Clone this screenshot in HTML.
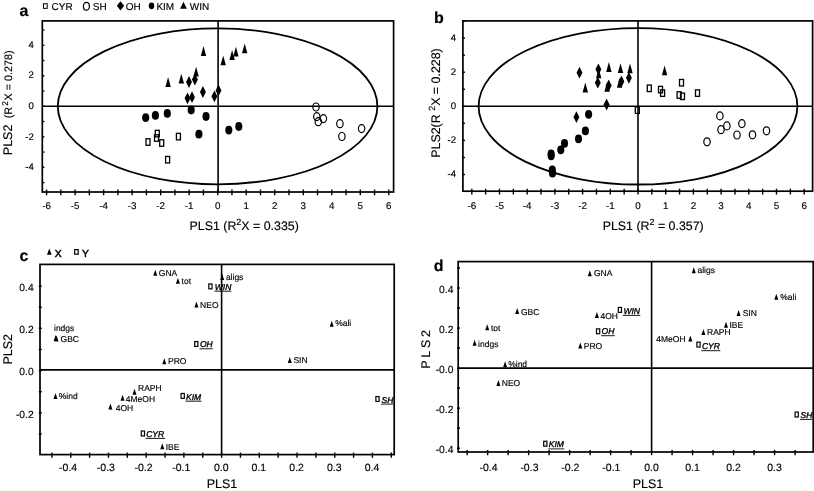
<!DOCTYPE html>
<html><head><meta charset="utf-8"><title>PLS plots</title>
<style>
html,body{margin:0;padding:0;background:#fff;}
body{width:814px;height:491px;overflow:hidden;}
svg{display:block;will-change:transform;}
svg text{font-family:"Liberation Sans", sans-serif;fill:#000;stroke:#000;stroke-width:0.15px;text-rendering:geometricPrecision;}
</style></head><body>
<svg width="814" height="491" viewBox="0 0 814 491">
<rect width="814" height="491" fill="#fff"/>
<rect x="42.3" y="20.9" width="351.3" height="171.1" fill="none" stroke="#000" stroke-width="1.7"/>
<line x1="42.30" y1="106.30" x2="393.60" y2="106.30" stroke="#000" stroke-width="1.6"/>
<line x1="218.10" y1="20.90" x2="218.10" y2="192.00" stroke="#000" stroke-width="1.6"/>
<ellipse cx="217.6" cy="106.3" rx="159.8" ry="78.0" fill="none" stroke="#000" stroke-width="1.8"/>
<line x1="46.58" y1="189.50" x2="46.58" y2="195.30" stroke="#000" stroke-width="1.4"/>
<line x1="60.84" y1="189.50" x2="60.84" y2="195.30" stroke="#000" stroke-width="1.4"/>
<line x1="75.10" y1="189.50" x2="75.10" y2="195.30" stroke="#000" stroke-width="1.4"/>
<line x1="89.36" y1="189.50" x2="89.36" y2="195.30" stroke="#000" stroke-width="1.4"/>
<line x1="103.62" y1="189.50" x2="103.62" y2="195.30" stroke="#000" stroke-width="1.4"/>
<line x1="117.88" y1="189.50" x2="117.88" y2="195.30" stroke="#000" stroke-width="1.4"/>
<line x1="132.14" y1="189.50" x2="132.14" y2="195.30" stroke="#000" stroke-width="1.4"/>
<line x1="146.40" y1="189.50" x2="146.40" y2="195.30" stroke="#000" stroke-width="1.4"/>
<line x1="160.66" y1="189.50" x2="160.66" y2="195.30" stroke="#000" stroke-width="1.4"/>
<line x1="174.92" y1="189.50" x2="174.92" y2="195.30" stroke="#000" stroke-width="1.4"/>
<line x1="189.18" y1="189.50" x2="189.18" y2="195.30" stroke="#000" stroke-width="1.4"/>
<line x1="203.44" y1="189.50" x2="203.44" y2="195.30" stroke="#000" stroke-width="1.4"/>
<line x1="217.70" y1="189.50" x2="217.70" y2="195.30" stroke="#000" stroke-width="1.4"/>
<line x1="231.96" y1="189.50" x2="231.96" y2="195.30" stroke="#000" stroke-width="1.4"/>
<line x1="246.22" y1="189.50" x2="246.22" y2="195.30" stroke="#000" stroke-width="1.4"/>
<line x1="260.48" y1="189.50" x2="260.48" y2="195.30" stroke="#000" stroke-width="1.4"/>
<line x1="274.74" y1="189.50" x2="274.74" y2="195.30" stroke="#000" stroke-width="1.4"/>
<line x1="289.00" y1="189.50" x2="289.00" y2="195.30" stroke="#000" stroke-width="1.4"/>
<line x1="303.26" y1="189.50" x2="303.26" y2="195.30" stroke="#000" stroke-width="1.4"/>
<line x1="317.52" y1="189.50" x2="317.52" y2="195.30" stroke="#000" stroke-width="1.4"/>
<line x1="331.78" y1="189.50" x2="331.78" y2="195.30" stroke="#000" stroke-width="1.4"/>
<line x1="346.04" y1="189.50" x2="346.04" y2="195.30" stroke="#000" stroke-width="1.4"/>
<line x1="360.30" y1="189.50" x2="360.30" y2="195.30" stroke="#000" stroke-width="1.4"/>
<line x1="374.56" y1="189.50" x2="374.56" y2="195.30" stroke="#000" stroke-width="1.4"/>
<line x1="388.82" y1="189.50" x2="388.82" y2="195.30" stroke="#000" stroke-width="1.4"/>
<line x1="42.00" y1="182.60" x2="44.40" y2="182.60" stroke="#000" stroke-width="1.4"/>
<line x1="42.00" y1="167.34" x2="44.40" y2="167.34" stroke="#000" stroke-width="1.4"/>
<line x1="42.00" y1="152.08" x2="44.40" y2="152.08" stroke="#000" stroke-width="1.4"/>
<line x1="42.00" y1="136.82" x2="44.40" y2="136.82" stroke="#000" stroke-width="1.4"/>
<line x1="42.00" y1="121.56" x2="44.40" y2="121.56" stroke="#000" stroke-width="1.4"/>
<line x1="42.00" y1="106.30" x2="44.40" y2="106.30" stroke="#000" stroke-width="1.4"/>
<line x1="42.00" y1="91.04" x2="44.40" y2="91.04" stroke="#000" stroke-width="1.4"/>
<line x1="42.00" y1="75.78" x2="44.40" y2="75.78" stroke="#000" stroke-width="1.4"/>
<line x1="42.00" y1="60.52" x2="44.40" y2="60.52" stroke="#000" stroke-width="1.4"/>
<line x1="42.00" y1="45.26" x2="44.40" y2="45.26" stroke="#000" stroke-width="1.4"/>
<line x1="42.00" y1="30.00" x2="44.40" y2="30.00" stroke="#000" stroke-width="1.4"/>
<text x="46.58" y="209.10" font-size="9.8" text-anchor="middle" font-weight="normal" font-style="normal" >-6</text>
<text x="75.10" y="209.10" font-size="9.8" text-anchor="middle" font-weight="normal" font-style="normal" >-5</text>
<text x="103.62" y="209.10" font-size="9.8" text-anchor="middle" font-weight="normal" font-style="normal" >-4</text>
<text x="132.14" y="209.10" font-size="9.8" text-anchor="middle" font-weight="normal" font-style="normal" >-3</text>
<text x="160.66" y="209.10" font-size="9.8" text-anchor="middle" font-weight="normal" font-style="normal" >-2</text>
<text x="189.18" y="209.10" font-size="9.8" text-anchor="middle" font-weight="normal" font-style="normal" >-1</text>
<text x="217.70" y="209.10" font-size="9.8" text-anchor="middle" font-weight="normal" font-style="normal" >0</text>
<text x="246.22" y="209.10" font-size="9.8" text-anchor="middle" font-weight="normal" font-style="normal" >1</text>
<text x="274.74" y="209.10" font-size="9.8" text-anchor="middle" font-weight="normal" font-style="normal" >2</text>
<text x="303.26" y="209.10" font-size="9.8" text-anchor="middle" font-weight="normal" font-style="normal" >3</text>
<text x="331.78" y="209.10" font-size="9.8" text-anchor="middle" font-weight="normal" font-style="normal" >4</text>
<text x="360.30" y="209.10" font-size="9.8" text-anchor="middle" font-weight="normal" font-style="normal" >5</text>
<text x="388.82" y="209.10" font-size="9.8" text-anchor="middle" font-weight="normal" font-style="normal" >6</text>
<text x="33.80" y="47.96" font-size="9.6" text-anchor="end" font-weight="normal" font-style="normal" >4</text>
<text x="33.80" y="78.48" font-size="9.6" text-anchor="end" font-weight="normal" font-style="normal" >2</text>
<text x="33.80" y="109.00" font-size="9.6" text-anchor="end" font-weight="normal" font-style="normal" >0</text>
<text x="33.80" y="139.52" font-size="9.6" text-anchor="end" font-weight="normal" font-style="normal" >-2</text>
<text x="33.80" y="170.04" font-size="9.6" text-anchor="end" font-weight="normal" font-style="normal" >-4</text>
<text x="244.20" y="229.70" font-size="12.4" text-anchor="middle" font-weight="normal" font-style="normal" >PLS1 (R<tspan dy="-4.5" font-size="9">2</tspan><tspan dy="4.5">X = 0.335)</tspan></text>
<g transform="translate(12.4,155.2) rotate(-90)"><text x="0.00" y="0.00" font-size="12.5" text-anchor="start" font-weight="normal" font-style="normal" >PLS2<tspan dx="3.3" font-size="10.8"> (R</tspan><tspan dx="1.2" dy="-4.6" font-size="8.5">2</tspan><tspan dx="0.4" dy="4.6" font-size="10.8">X = 0.278)</tspan></text></g>
<text x="19.50" y="16.00" font-size="16" text-anchor="start" font-weight="bold" font-style="normal" >a</text>
<rect x="43.50" y="3.75" width="3.7" height="4.6" fill="none" stroke="#000" stroke-width="1.0"/>
<text x="51.60" y="9.70" font-size="10" text-anchor="start" font-weight="normal" font-style="normal" >CYR</text>
<ellipse cx="86.40" cy="6.25" rx="3.0" ry="3.95" fill="none" stroke="#000" stroke-width="1.2"/>
<text x="92.80" y="9.70" font-size="10" text-anchor="start" font-weight="normal" font-style="normal" >SH</text>
<polygon points="120.50,1.20 124.20,5.80 120.50,10.40 116.80,5.80"/>
<text x="125.80" y="9.70" font-size="10" text-anchor="start" font-weight="normal" font-style="normal" >OH</text>
<ellipse cx="151.50" cy="5.85" rx="2.75" ry="3.35"/>
<text x="156.40" y="9.70" font-size="10" text-anchor="start" font-weight="normal" font-style="normal" >KIM</text>
<polygon points="183.50,1.80 180.10,8.80 186.90,8.80"/>
<text x="189.80" y="9.70" font-size="10" text-anchor="start" font-weight="normal" font-style="normal" >WIN</text>
<rect x="146.00" y="138.75" width="4.0" height="6.5" fill="none" stroke="#000" stroke-width="1.3"/>
<rect x="155.30" y="130.35" width="4.0" height="6.5" fill="none" stroke="#000" stroke-width="1.3"/>
<rect x="154.50" y="134.75" width="4.0" height="6.5" fill="none" stroke="#000" stroke-width="1.3"/>
<rect x="159.70" y="139.75" width="4.0" height="6.5" fill="none" stroke="#000" stroke-width="1.3"/>
<rect x="176.40" y="133.35" width="4.0" height="6.5" fill="none" stroke="#000" stroke-width="1.3"/>
<rect x="165.60" y="156.45" width="4.0" height="6.5" fill="none" stroke="#000" stroke-width="1.3"/>
<ellipse cx="316.00" cy="107.00" rx="3.2" ry="4.0" fill="none" stroke="#000" stroke-width="1.2"/>
<ellipse cx="316.80" cy="116.60" rx="3.2" ry="4.0" fill="none" stroke="#000" stroke-width="1.2"/>
<ellipse cx="323.40" cy="118.60" rx="3.2" ry="4.0" fill="none" stroke="#000" stroke-width="1.2"/>
<ellipse cx="318.30" cy="121.70" rx="3.2" ry="4.0" fill="none" stroke="#000" stroke-width="1.2"/>
<ellipse cx="339.90" cy="123.70" rx="3.2" ry="4.0" fill="none" stroke="#000" stroke-width="1.2"/>
<ellipse cx="341.90" cy="136.50" rx="3.2" ry="4.0" fill="none" stroke="#000" stroke-width="1.2"/>
<ellipse cx="361.60" cy="128.60" rx="3.2" ry="4.0" fill="none" stroke="#000" stroke-width="1.2"/>
<ellipse cx="145.70" cy="117.60" rx="3.55" ry="4.4"/>
<ellipse cx="155.40" cy="115.40" rx="3.55" ry="4.4"/>
<ellipse cx="167.30" cy="113.40" rx="3.55" ry="4.4"/>
<ellipse cx="191.20" cy="110.00" rx="3.55" ry="4.4"/>
<ellipse cx="206.00" cy="116.50" rx="3.55" ry="4.4"/>
<ellipse cx="198.90" cy="134.20" rx="3.55" ry="4.4"/>
<ellipse cx="228.80" cy="130.10" rx="3.55" ry="4.4"/>
<ellipse cx="238.80" cy="126.50" rx="3.55" ry="4.4"/>
<polygon points="189.00,76.10 191.95,82.00 189.00,87.90 186.05,82.00"/>
<polygon points="194.90,73.60 197.85,79.50 194.90,85.40 191.95,79.50"/>
<polygon points="202.90,86.10 205.85,92.00 202.90,97.90 199.95,92.00"/>
<polygon points="187.50,92.40 190.45,98.30 187.50,104.20 184.55,98.30"/>
<polygon points="192.00,91.30 194.95,97.20 192.00,103.10 189.05,97.20"/>
<polygon points="214.40,90.40 217.35,96.30 214.40,102.20 211.45,96.30"/>
<polygon points="218.50,84.50 221.45,90.40 218.50,96.30 215.55,90.40"/>
<polygon points="203.50,46.10 200.80,55.90 206.20,55.90"/>
<polygon points="223.20,55.50 220.50,65.30 225.90,65.30"/>
<polygon points="232.10,50.10 229.40,59.90 234.80,59.90"/>
<polygon points="235.90,46.70 233.20,56.50 238.60,56.50"/>
<polygon points="244.70,43.40 242.00,53.20 247.40,53.20"/>
<polygon points="168.10,77.10 165.40,86.90 170.80,86.90"/>
<polygon points="181.30,73.70 178.60,83.50 184.00,83.50"/>
<polygon points="196.10,66.80 193.40,76.60 198.80,76.60"/>
<rect x="462.9" y="20.9" width="349.70000000000005" height="170.29999999999998" fill="none" stroke="#000" stroke-width="1.7"/>
<line x1="462.90" y1="106.30" x2="812.60" y2="106.30" stroke="#000" stroke-width="1.6"/>
<line x1="638.00" y1="20.90" x2="638.00" y2="191.20" stroke="#000" stroke-width="1.6"/>
<ellipse cx="638.0" cy="106.3" rx="159.4" ry="78.2" fill="none" stroke="#000" stroke-width="1.8"/>
<line x1="471.80" y1="188.70" x2="471.80" y2="194.50" stroke="#000" stroke-width="1.4"/>
<line x1="485.65" y1="188.70" x2="485.65" y2="194.50" stroke="#000" stroke-width="1.4"/>
<line x1="499.50" y1="188.70" x2="499.50" y2="194.50" stroke="#000" stroke-width="1.4"/>
<line x1="513.35" y1="188.70" x2="513.35" y2="194.50" stroke="#000" stroke-width="1.4"/>
<line x1="527.20" y1="188.70" x2="527.20" y2="194.50" stroke="#000" stroke-width="1.4"/>
<line x1="541.05" y1="188.70" x2="541.05" y2="194.50" stroke="#000" stroke-width="1.4"/>
<line x1="554.90" y1="188.70" x2="554.90" y2="194.50" stroke="#000" stroke-width="1.4"/>
<line x1="568.75" y1="188.70" x2="568.75" y2="194.50" stroke="#000" stroke-width="1.4"/>
<line x1="582.60" y1="188.70" x2="582.60" y2="194.50" stroke="#000" stroke-width="1.4"/>
<line x1="596.45" y1="188.70" x2="596.45" y2="194.50" stroke="#000" stroke-width="1.4"/>
<line x1="610.30" y1="188.70" x2="610.30" y2="194.50" stroke="#000" stroke-width="1.4"/>
<line x1="624.15" y1="188.70" x2="624.15" y2="194.50" stroke="#000" stroke-width="1.4"/>
<line x1="638.00" y1="188.70" x2="638.00" y2="194.50" stroke="#000" stroke-width="1.4"/>
<line x1="651.85" y1="188.70" x2="651.85" y2="194.50" stroke="#000" stroke-width="1.4"/>
<line x1="665.70" y1="188.70" x2="665.70" y2="194.50" stroke="#000" stroke-width="1.4"/>
<line x1="679.55" y1="188.70" x2="679.55" y2="194.50" stroke="#000" stroke-width="1.4"/>
<line x1="693.40" y1="188.70" x2="693.40" y2="194.50" stroke="#000" stroke-width="1.4"/>
<line x1="707.25" y1="188.70" x2="707.25" y2="194.50" stroke="#000" stroke-width="1.4"/>
<line x1="721.10" y1="188.70" x2="721.10" y2="194.50" stroke="#000" stroke-width="1.4"/>
<line x1="734.95" y1="188.70" x2="734.95" y2="194.50" stroke="#000" stroke-width="1.4"/>
<line x1="748.80" y1="188.70" x2="748.80" y2="194.50" stroke="#000" stroke-width="1.4"/>
<line x1="762.65" y1="188.70" x2="762.65" y2="194.50" stroke="#000" stroke-width="1.4"/>
<line x1="776.50" y1="188.70" x2="776.50" y2="194.50" stroke="#000" stroke-width="1.4"/>
<line x1="790.35" y1="188.70" x2="790.35" y2="194.50" stroke="#000" stroke-width="1.4"/>
<line x1="804.20" y1="188.70" x2="804.20" y2="194.50" stroke="#000" stroke-width="1.4"/>
<line x1="462.60" y1="174.50" x2="465.00" y2="174.50" stroke="#000" stroke-width="1.4"/>
<line x1="462.60" y1="157.45" x2="465.00" y2="157.45" stroke="#000" stroke-width="1.4"/>
<line x1="462.60" y1="140.40" x2="465.00" y2="140.40" stroke="#000" stroke-width="1.4"/>
<line x1="462.60" y1="123.35" x2="465.00" y2="123.35" stroke="#000" stroke-width="1.4"/>
<line x1="462.60" y1="106.30" x2="465.00" y2="106.30" stroke="#000" stroke-width="1.4"/>
<line x1="462.60" y1="89.25" x2="465.00" y2="89.25" stroke="#000" stroke-width="1.4"/>
<line x1="462.60" y1="72.20" x2="465.00" y2="72.20" stroke="#000" stroke-width="1.4"/>
<line x1="462.60" y1="55.15" x2="465.00" y2="55.15" stroke="#000" stroke-width="1.4"/>
<line x1="462.60" y1="38.10" x2="465.00" y2="38.10" stroke="#000" stroke-width="1.4"/>
<line x1="462.60" y1="21.05" x2="465.00" y2="21.05" stroke="#000" stroke-width="1.4"/>
<text x="471.80" y="209.10" font-size="9.8" text-anchor="middle" font-weight="normal" font-style="normal" >-6</text>
<text x="499.50" y="209.10" font-size="9.8" text-anchor="middle" font-weight="normal" font-style="normal" >-5</text>
<text x="527.20" y="209.10" font-size="9.8" text-anchor="middle" font-weight="normal" font-style="normal" >-4</text>
<text x="554.90" y="209.10" font-size="9.8" text-anchor="middle" font-weight="normal" font-style="normal" >-3</text>
<text x="582.60" y="209.10" font-size="9.8" text-anchor="middle" font-weight="normal" font-style="normal" >-2</text>
<text x="610.30" y="209.10" font-size="9.8" text-anchor="middle" font-weight="normal" font-style="normal" >-1</text>
<text x="638.00" y="209.10" font-size="9.8" text-anchor="middle" font-weight="normal" font-style="normal" >0</text>
<text x="665.70" y="209.10" font-size="9.8" text-anchor="middle" font-weight="normal" font-style="normal" >1</text>
<text x="693.40" y="209.10" font-size="9.8" text-anchor="middle" font-weight="normal" font-style="normal" >2</text>
<text x="721.10" y="209.10" font-size="9.8" text-anchor="middle" font-weight="normal" font-style="normal" >3</text>
<text x="748.80" y="209.10" font-size="9.8" text-anchor="middle" font-weight="normal" font-style="normal" >4</text>
<text x="776.50" y="209.10" font-size="9.8" text-anchor="middle" font-weight="normal" font-style="normal" >5</text>
<text x="804.20" y="209.10" font-size="9.8" text-anchor="middle" font-weight="normal" font-style="normal" >6</text>
<text x="456.10" y="41.00" font-size="9.6" text-anchor="end" font-weight="normal" font-style="normal" >4</text>
<text x="456.10" y="75.10" font-size="9.6" text-anchor="end" font-weight="normal" font-style="normal" >2</text>
<text x="456.10" y="109.20" font-size="9.6" text-anchor="end" font-weight="normal" font-style="normal" >0</text>
<text x="456.10" y="143.30" font-size="9.6" text-anchor="end" font-weight="normal" font-style="normal" >-2</text>
<text x="456.10" y="177.40" font-size="9.6" text-anchor="end" font-weight="normal" font-style="normal" >-4</text>
<text x="653.20" y="229.70" font-size="12.4" text-anchor="middle" font-weight="normal" font-style="normal" >PLS1 (R<tspan dy="-4.5" font-size="9">2</tspan><tspan dy="4.5"> = 0.357)</tspan></text>
<g transform="translate(439.6,103.0) rotate(-90)"><text x="0.00" y="0.00" font-size="12.4" text-anchor="middle" font-weight="normal" font-style="normal" >PLS2(R <tspan dy="-4.5" font-size="9">2</tspan><tspan dy="4.5">X = 0.228)</tspan></text></g>
<text x="434.00" y="23.10" font-size="16" text-anchor="start" font-weight="bold" font-style="normal" >b</text>
<rect x="647.30" y="85.05" width="4.0" height="6.5" fill="none" stroke="#000" stroke-width="1.3"/>
<rect x="658.50" y="86.35" width="4.0" height="6.5" fill="none" stroke="#000" stroke-width="1.3"/>
<rect x="660.60" y="89.85" width="4.0" height="6.5" fill="none" stroke="#000" stroke-width="1.3"/>
<rect x="679.50" y="79.45" width="4.0" height="6.5" fill="none" stroke="#000" stroke-width="1.3"/>
<rect x="677.10" y="91.75" width="4.0" height="6.5" fill="none" stroke="#000" stroke-width="1.3"/>
<rect x="680.50" y="93.05" width="4.0" height="6.5" fill="none" stroke="#000" stroke-width="1.3"/>
<rect x="695.50" y="89.85" width="4.0" height="6.5" fill="none" stroke="#000" stroke-width="1.3"/>
<rect x="635.30" y="106.95" width="4.0" height="6.5" fill="none" stroke="#000" stroke-width="1.3"/>
<ellipse cx="719.90" cy="115.90" rx="3.2" ry="4.0" fill="none" stroke="#000" stroke-width="1.2"/>
<ellipse cx="726.90" cy="125.90" rx="3.2" ry="4.0" fill="none" stroke="#000" stroke-width="1.2"/>
<ellipse cx="721.00" cy="129.70" rx="3.2" ry="4.0" fill="none" stroke="#000" stroke-width="1.2"/>
<ellipse cx="741.90" cy="123.60" rx="3.2" ry="4.0" fill="none" stroke="#000" stroke-width="1.2"/>
<ellipse cx="737.00" cy="135.00" rx="3.2" ry="4.0" fill="none" stroke="#000" stroke-width="1.2"/>
<ellipse cx="752.50" cy="134.80" rx="3.2" ry="4.0" fill="none" stroke="#000" stroke-width="1.2"/>
<ellipse cx="766.50" cy="130.80" rx="3.2" ry="4.0" fill="none" stroke="#000" stroke-width="1.2"/>
<ellipse cx="707.00" cy="141.80" rx="3.2" ry="4.0" fill="none" stroke="#000" stroke-width="1.2"/>
<ellipse cx="588.60" cy="114.30" rx="3.55" ry="4.4"/>
<ellipse cx="585.40" cy="130.90" rx="3.55" ry="4.4"/>
<ellipse cx="578.50" cy="138.80" rx="3.55" ry="4.4"/>
<ellipse cx="564.50" cy="143.40" rx="3.55" ry="4.4"/>
<ellipse cx="560.80" cy="149.80" rx="3.55" ry="4.4"/>
<ellipse cx="551.10" cy="154.00" rx="3.55" ry="4.4"/>
<ellipse cx="551.20" cy="155.80" rx="3.55" ry="4.4"/>
<ellipse cx="552.30" cy="170.00" rx="3.55" ry="4.4"/>
<ellipse cx="552.50" cy="173.20" rx="3.55" ry="4.4"/>
<polygon points="579.50,66.80 582.45,72.70 579.50,78.60 576.55,72.70"/>
<polygon points="598.40,63.40 601.35,69.30 598.40,75.20 595.45,69.30"/>
<polygon points="597.80,76.80 600.75,82.70 597.80,88.60 594.85,82.70"/>
<polygon points="608.70,79.60 611.65,85.50 608.70,91.40 605.75,85.50"/>
<polygon points="621.40,75.50 624.35,81.40 621.40,87.30 618.45,81.40"/>
<polygon points="628.90,71.90 631.85,77.80 628.90,83.70 625.95,77.80"/>
<polygon points="606.60,98.60 609.55,104.50 606.60,110.40 603.65,104.50"/>
<polygon points="576.40,111.20 579.35,117.10 576.40,123.00 573.45,117.10"/>
<polygon points="598.70,68.50 596.00,78.30 601.40,78.30"/>
<polygon points="608.90,62.10 606.20,71.90 611.60,71.90"/>
<polygon points="620.50,63.20 617.80,73.00 623.20,73.00"/>
<polygon points="630.00,63.50 627.30,73.30 632.70,73.30"/>
<polygon points="585.30,82.60 582.60,92.40 588.00,92.40"/>
<polygon points="607.10,81.90 604.40,91.70 609.80,91.70"/>
<polygon points="619.60,77.90 616.90,87.70 622.30,87.70"/>
<polygon points="664.60,65.50 661.90,75.30 667.30,75.30"/>
<rect x="40.0" y="264.4" width="354.2" height="190.20000000000005" fill="none" stroke="#000" stroke-width="1.7"/>
<line x1="40.00" y1="369.90" x2="394.20" y2="369.90" stroke="#000" stroke-width="1.6"/>
<line x1="221.60" y1="264.40" x2="221.60" y2="454.60" stroke="#000" stroke-width="1.6"/>
<line x1="51.90" y1="452.60" x2="51.90" y2="457.80" stroke="#000" stroke-width="1.4"/>
<line x1="70.76" y1="452.60" x2="70.76" y2="457.80" stroke="#000" stroke-width="1.4"/>
<line x1="89.61" y1="452.60" x2="89.61" y2="457.80" stroke="#000" stroke-width="1.4"/>
<line x1="108.47" y1="452.60" x2="108.47" y2="457.80" stroke="#000" stroke-width="1.4"/>
<line x1="127.32" y1="452.60" x2="127.32" y2="457.80" stroke="#000" stroke-width="1.4"/>
<line x1="146.18" y1="452.60" x2="146.18" y2="457.80" stroke="#000" stroke-width="1.4"/>
<line x1="165.03" y1="452.60" x2="165.03" y2="457.80" stroke="#000" stroke-width="1.4"/>
<line x1="183.89" y1="452.60" x2="183.89" y2="457.80" stroke="#000" stroke-width="1.4"/>
<line x1="202.75" y1="452.60" x2="202.75" y2="457.80" stroke="#000" stroke-width="1.4"/>
<line x1="221.60" y1="452.60" x2="221.60" y2="457.80" stroke="#000" stroke-width="1.4"/>
<line x1="240.45" y1="452.60" x2="240.45" y2="457.80" stroke="#000" stroke-width="1.4"/>
<line x1="259.31" y1="452.60" x2="259.31" y2="457.80" stroke="#000" stroke-width="1.4"/>
<line x1="278.17" y1="452.60" x2="278.17" y2="457.80" stroke="#000" stroke-width="1.4"/>
<line x1="297.02" y1="452.60" x2="297.02" y2="457.80" stroke="#000" stroke-width="1.4"/>
<line x1="315.88" y1="452.60" x2="315.88" y2="457.80" stroke="#000" stroke-width="1.4"/>
<line x1="334.73" y1="452.60" x2="334.73" y2="457.80" stroke="#000" stroke-width="1.4"/>
<line x1="353.59" y1="452.60" x2="353.59" y2="457.80" stroke="#000" stroke-width="1.4"/>
<line x1="372.44" y1="452.60" x2="372.44" y2="457.80" stroke="#000" stroke-width="1.4"/>
<line x1="391.30" y1="452.60" x2="391.30" y2="457.80" stroke="#000" stroke-width="1.4"/>
<line x1="38.80" y1="433.99" x2="41.80" y2="433.99" stroke="#000" stroke-width="1.4"/>
<line x1="38.80" y1="412.86" x2="41.80" y2="412.86" stroke="#000" stroke-width="1.4"/>
<line x1="38.80" y1="391.73" x2="41.80" y2="391.73" stroke="#000" stroke-width="1.4"/>
<line x1="38.80" y1="370.60" x2="41.80" y2="370.60" stroke="#000" stroke-width="1.4"/>
<line x1="38.80" y1="349.47" x2="41.80" y2="349.47" stroke="#000" stroke-width="1.4"/>
<line x1="38.80" y1="328.34" x2="41.80" y2="328.34" stroke="#000" stroke-width="1.4"/>
<line x1="38.80" y1="307.21" x2="41.80" y2="307.21" stroke="#000" stroke-width="1.4"/>
<line x1="38.80" y1="286.08" x2="41.80" y2="286.08" stroke="#000" stroke-width="1.4"/>
<text x="68.16" y="470.80" font-size="10.5" text-anchor="middle" font-weight="normal" font-style="normal" >-0.4</text>
<text x="105.87" y="470.80" font-size="10.5" text-anchor="middle" font-weight="normal" font-style="normal" >-0.3</text>
<text x="143.58" y="470.80" font-size="10.5" text-anchor="middle" font-weight="normal" font-style="normal" >-0.2</text>
<text x="181.29" y="470.80" font-size="10.5" text-anchor="middle" font-weight="normal" font-style="normal" >-0.1</text>
<text x="221.20" y="470.80" font-size="10.5" text-anchor="middle" font-weight="normal" font-style="normal" >0.0</text>
<text x="258.91" y="470.80" font-size="10.5" text-anchor="middle" font-weight="normal" font-style="normal" >0.1</text>
<text x="296.62" y="470.80" font-size="10.5" text-anchor="middle" font-weight="normal" font-style="normal" >0.2</text>
<text x="334.33" y="470.80" font-size="10.5" text-anchor="middle" font-weight="normal" font-style="normal" >0.3</text>
<text x="372.04" y="470.80" font-size="10.5" text-anchor="middle" font-weight="normal" font-style="normal" >0.4</text>
<text x="33.70" y="290.78" font-size="10.3" text-anchor="end" font-weight="normal" font-style="normal" >0.4</text>
<text x="33.70" y="333.04" font-size="10.3" text-anchor="end" font-weight="normal" font-style="normal" >0.2</text>
<text x="33.70" y="375.30" font-size="10.3" text-anchor="end" font-weight="normal" font-style="normal" >0.0</text>
<text x="33.70" y="417.56" font-size="10.3" text-anchor="end" font-weight="normal" font-style="normal" >-0.2</text>
<text x="222.00" y="487.80" font-size="12.5" text-anchor="middle" font-weight="normal" font-style="normal" >PLS1</text>
<g transform="translate(12.2,349.3) rotate(-90)"><text x="0.00" y="0.00" font-size="12.5" text-anchor="middle" font-weight="normal" font-style="normal" >PLS2</text></g>
<text x="19.50" y="261.20" font-size="16" text-anchor="start" font-weight="bold" font-style="normal" >c</text>
<polygon points="49.30,248.45 46.95,254.75 51.65,254.75"/>
<text x="54.80" y="256.80" font-size="10.3" text-anchor="start" font-weight="normal" font-style="normal" style="stroke-width:0.5px">X</text>
<rect x="74.70" y="249.60" width="3.5" height="4.6" fill="none" stroke="#000" stroke-width="1.2"/>
<text x="82.10" y="256.80" font-size="10.3" text-anchor="start" font-weight="normal" font-style="normal" style="stroke-width:0.5px">Y</text>
<polygon points="155.30,269.70 153.30,275.70 157.30,275.70"/>
<text x="158.80" y="276.40" font-size="8.5" text-anchor="start" font-weight="normal" font-style="normal" >GNA</text>
<polygon points="177.90,277.80 175.90,283.80 179.90,283.80"/>
<text x="181.60" y="284.30" font-size="8.5" text-anchor="start" font-weight="normal" font-style="normal" >tot</text>
<polygon points="222.20,274.10 220.20,280.10 224.20,280.10"/>
<text x="225.90" y="280.30" font-size="8.5" text-anchor="start" font-weight="normal" font-style="normal" >aligs</text>
<rect x="208.80" y="283.95" width="3.2" height="4.9" fill="none" stroke="#000" stroke-width="1.2"/>
<text x="214.80" y="289.60" font-size="8.5" text-anchor="start" font-weight="normal" font-style="italic" style="stroke-width:0.35px">WIN</text>
<line x1="214.30" y1="291.20" x2="231.30" y2="291.20" stroke="#000" stroke-width="0.9"/>
<polygon points="196.40,301.40 194.40,307.40 198.40,307.40"/>
<text x="200.10" y="308.00" font-size="8.5" text-anchor="start" font-weight="normal" font-style="normal" >NEO</text>
<text x="54.00" y="330.60" font-size="8.5" text-anchor="start" font-weight="normal" font-style="normal" >indgs</text>
<polygon points="56.50,335.50 54.50,341.50 58.50,341.50"/>
<text x="60.60" y="342.20" font-size="8.5" text-anchor="start" font-weight="normal" font-style="normal" >GBC</text>
<polygon points="55.60,334.90 53.60,340.90 57.60,340.90"/>
<rect x="194.70" y="341.55" width="3.2" height="4.9" fill="none" stroke="#000" stroke-width="1.2"/>
<text x="200.00" y="347.20" font-size="8.5" text-anchor="start" font-weight="normal" font-style="italic" style="stroke-width:0.35px">OH</text>
<line x1="199.50" y1="348.80" x2="212.70" y2="348.80" stroke="#000" stroke-width="0.9"/>
<polygon points="164.30,358.20 162.30,364.20 166.30,364.20"/>
<text x="168.00" y="363.60" font-size="8.5" text-anchor="start" font-weight="normal" font-style="normal" >PRO</text>
<polygon points="331.70,320.80 329.70,326.80 333.70,326.80"/>
<text x="335.20" y="326.30" font-size="8.5" text-anchor="start" font-weight="normal" font-style="normal" >%ali</text>
<polygon points="289.80,356.90 287.80,362.90 291.80,362.90"/>
<text x="293.40" y="363.40" font-size="8.5" text-anchor="start" font-weight="normal" font-style="normal" >SIN</text>
<polygon points="55.50,392.90 53.50,398.90 57.50,398.90"/>
<text x="58.80" y="399.20" font-size="8.5" text-anchor="start" font-weight="normal" font-style="normal" >%ind</text>
<polygon points="134.50,388.70 132.50,394.70 136.50,394.70"/>
<text x="138.00" y="390.60" font-size="8.5" text-anchor="start" font-weight="normal" font-style="normal" >RAPH</text>
<polygon points="122.50,394.70 120.50,400.70 124.50,400.70"/>
<text x="125.80" y="402.10" font-size="8.5" text-anchor="start" font-weight="normal" font-style="normal" >4MeOH</text>
<polygon points="110.40,403.50 108.40,409.50 112.40,409.50"/>
<text x="115.70" y="410.90" font-size="8.5" text-anchor="start" font-weight="normal" font-style="normal" >4OH</text>
<rect x="181.10" y="393.45" width="3.2" height="4.9" fill="none" stroke="#000" stroke-width="1.2"/>
<text x="186.00" y="399.60" font-size="8.5" text-anchor="start" font-weight="normal" font-style="italic" style="stroke-width:0.35px">KIM</text>
<line x1="185.50" y1="401.20" x2="201.50" y2="401.20" stroke="#000" stroke-width="0.9"/>
<rect x="141.30" y="431.05" width="3.2" height="4.9" fill="none" stroke="#000" stroke-width="1.2"/>
<text x="146.20" y="436.80" font-size="8.5" text-anchor="start" font-weight="normal" font-style="italic" style="stroke-width:0.35px">CYR</text>
<line x1="145.70" y1="438.40" x2="165.00" y2="438.40" stroke="#000" stroke-width="0.9"/>
<polygon points="162.30,443.30 160.30,449.30 164.30,449.30"/>
<text x="165.70" y="450.10" font-size="8.5" text-anchor="start" font-weight="normal" font-style="normal" >IBE</text>
<rect x="375.90" y="396.55" width="3.2" height="4.9" fill="none" stroke="#000" stroke-width="1.2"/>
<text x="381.60" y="402.50" font-size="8.5" text-anchor="start" font-weight="normal" font-style="italic" style="stroke-width:0.35px">SH</text>
<line x1="381.10" y1="404.10" x2="393.60" y2="404.10" stroke="#000" stroke-width="0.9"/>
<rect x="458.2" y="261.6" width="355.00000000000006" height="190.39999999999998" fill="none" stroke="#000" stroke-width="1.7"/>
<line x1="458.20" y1="368.10" x2="813.20" y2="368.10" stroke="#000" stroke-width="1.6"/>
<line x1="651.60" y1="261.60" x2="651.60" y2="452.00" stroke="#000" stroke-width="1.6"/>
<line x1="467.15" y1="450.00" x2="467.15" y2="455.20" stroke="#000" stroke-width="1.4"/>
<line x1="487.64" y1="450.00" x2="487.64" y2="455.20" stroke="#000" stroke-width="1.4"/>
<line x1="508.13" y1="450.00" x2="508.13" y2="455.20" stroke="#000" stroke-width="1.4"/>
<line x1="528.63" y1="450.00" x2="528.63" y2="455.20" stroke="#000" stroke-width="1.4"/>
<line x1="549.12" y1="450.00" x2="549.12" y2="455.20" stroke="#000" stroke-width="1.4"/>
<line x1="569.62" y1="450.00" x2="569.62" y2="455.20" stroke="#000" stroke-width="1.4"/>
<line x1="590.12" y1="450.00" x2="590.12" y2="455.20" stroke="#000" stroke-width="1.4"/>
<line x1="610.61" y1="450.00" x2="610.61" y2="455.20" stroke="#000" stroke-width="1.4"/>
<line x1="631.11" y1="450.00" x2="631.11" y2="455.20" stroke="#000" stroke-width="1.4"/>
<line x1="651.60" y1="450.00" x2="651.60" y2="455.20" stroke="#000" stroke-width="1.4"/>
<line x1="672.10" y1="450.00" x2="672.10" y2="455.20" stroke="#000" stroke-width="1.4"/>
<line x1="692.59" y1="450.00" x2="692.59" y2="455.20" stroke="#000" stroke-width="1.4"/>
<line x1="713.09" y1="450.00" x2="713.09" y2="455.20" stroke="#000" stroke-width="1.4"/>
<line x1="733.58" y1="450.00" x2="733.58" y2="455.20" stroke="#000" stroke-width="1.4"/>
<line x1="754.08" y1="450.00" x2="754.08" y2="455.20" stroke="#000" stroke-width="1.4"/>
<line x1="774.57" y1="450.00" x2="774.57" y2="455.20" stroke="#000" stroke-width="1.4"/>
<line x1="795.07" y1="450.00" x2="795.07" y2="455.20" stroke="#000" stroke-width="1.4"/>
<line x1="457.00" y1="448.18" x2="460.00" y2="448.18" stroke="#000" stroke-width="1.4"/>
<line x1="457.00" y1="428.16" x2="460.00" y2="428.16" stroke="#000" stroke-width="1.4"/>
<line x1="457.00" y1="408.14" x2="460.00" y2="408.14" stroke="#000" stroke-width="1.4"/>
<line x1="457.00" y1="388.12" x2="460.00" y2="388.12" stroke="#000" stroke-width="1.4"/>
<line x1="457.00" y1="368.10" x2="460.00" y2="368.10" stroke="#000" stroke-width="1.4"/>
<line x1="457.00" y1="348.08" x2="460.00" y2="348.08" stroke="#000" stroke-width="1.4"/>
<line x1="457.00" y1="328.06" x2="460.00" y2="328.06" stroke="#000" stroke-width="1.4"/>
<line x1="457.00" y1="308.04" x2="460.00" y2="308.04" stroke="#000" stroke-width="1.4"/>
<line x1="457.00" y1="288.02" x2="460.00" y2="288.02" stroke="#000" stroke-width="1.4"/>
<line x1="457.00" y1="268.00" x2="460.00" y2="268.00" stroke="#000" stroke-width="1.4"/>
<text x="488.44" y="470.80" font-size="10.5" text-anchor="middle" font-weight="normal" font-style="normal" >-0.4</text>
<text x="529.43" y="470.80" font-size="10.5" text-anchor="middle" font-weight="normal" font-style="normal" >-0.3</text>
<text x="570.42" y="470.80" font-size="10.5" text-anchor="middle" font-weight="normal" font-style="normal" >-0.2</text>
<text x="611.41" y="470.80" font-size="10.5" text-anchor="middle" font-weight="normal" font-style="normal" >-0.1</text>
<text x="651.60" y="470.80" font-size="10.5" text-anchor="middle" font-weight="normal" font-style="normal" >0.0</text>
<text x="692.59" y="470.80" font-size="10.5" text-anchor="middle" font-weight="normal" font-style="normal" >0.1</text>
<text x="733.58" y="470.80" font-size="10.5" text-anchor="middle" font-weight="normal" font-style="normal" >0.2</text>
<text x="774.57" y="470.80" font-size="10.5" text-anchor="middle" font-weight="normal" font-style="normal" >0.3</text>
<text x="453.40" y="292.52" font-size="10.3" text-anchor="end" font-weight="normal" font-style="normal" >0.4</text>
<text x="453.40" y="332.56" font-size="10.3" text-anchor="end" font-weight="normal" font-style="normal" >0.2</text>
<text x="453.40" y="372.60" font-size="10.3" text-anchor="end" font-weight="normal" font-style="normal" >-0.0</text>
<text x="453.40" y="412.64" font-size="10.3" text-anchor="end" font-weight="normal" font-style="normal" >-0.2</text>
<text x="453.40" y="452.68" font-size="10.3" text-anchor="end" font-weight="normal" font-style="normal" >-0.4</text>
<text x="648.00" y="488.00" font-size="12.5" text-anchor="middle" font-weight="normal" font-style="normal" >PLS1</text>
<g transform="translate(430.0,348.1) rotate(-90)"><text x="0.00" y="0.00" font-size="12.5" text-anchor="middle" font-weight="normal" font-style="normal" letter-spacing="2.7">PLS2</text></g>
<text x="433.80" y="270.80" font-size="16" text-anchor="start" font-weight="bold" font-style="normal" >d</text>
<polygon points="517.20,308.00 515.20,314.00 519.20,314.00"/>
<text x="520.90" y="314.70" font-size="8.5" text-anchor="start" font-weight="normal" font-style="normal" >GBC</text>
<polygon points="487.20,324.20 485.20,330.20 489.20,330.20"/>
<text x="491.00" y="330.70" font-size="8.5" text-anchor="start" font-weight="normal" font-style="normal" >tot</text>
<polygon points="474.60,339.70 472.60,345.70 476.60,345.70"/>
<text x="478.10" y="346.50" font-size="8.5" text-anchor="start" font-weight="normal" font-style="normal" >indgs</text>
<polygon points="505.10,361.20 503.10,367.20 507.10,367.20"/>
<text x="508.20" y="366.80" font-size="8.5" text-anchor="start" font-weight="normal" font-style="normal" >%ind</text>
<polygon points="580.30,342.40 578.30,348.40 582.30,348.40"/>
<text x="583.80" y="348.60" font-size="8.5" text-anchor="start" font-weight="normal" font-style="normal" >PRO</text>
<polygon points="589.80,270.20 587.80,276.20 591.80,276.20"/>
<text x="594.00" y="276.30" font-size="8.5" text-anchor="start" font-weight="normal" font-style="normal" >GNA</text>
<polygon points="596.90,312.00 594.90,318.00 598.90,318.00"/>
<text x="600.50" y="318.50" font-size="8.5" text-anchor="start" font-weight="normal" font-style="normal" >4OH</text>
<rect x="618.30" y="307.45" width="3.2" height="4.9" fill="none" stroke="#000" stroke-width="1.2"/>
<text x="623.40" y="313.80" font-size="8.5" text-anchor="start" font-weight="normal" font-style="italic" style="stroke-width:0.35px">WIN</text>
<line x1="622.90" y1="315.40" x2="640.30" y2="315.40" stroke="#000" stroke-width="0.9"/>
<rect x="596.50" y="328.85" width="3.2" height="4.9" fill="none" stroke="#000" stroke-width="1.2"/>
<text x="601.60" y="334.10" font-size="8.5" text-anchor="start" font-weight="normal" font-style="italic" style="stroke-width:0.35px">OH</text>
<line x1="601.10" y1="335.70" x2="614.80" y2="335.70" stroke="#000" stroke-width="0.9"/>
<polygon points="498.40,379.90 496.40,385.90 500.40,385.90"/>
<text x="501.80" y="386.30" font-size="8.5" text-anchor="start" font-weight="normal" font-style="normal" >NEO</text>
<rect x="543.70" y="441.25" width="3.2" height="4.9" fill="none" stroke="#000" stroke-width="1.2"/>
<text x="548.80" y="447.30" font-size="8.5" text-anchor="start" font-weight="normal" font-style="italic" style="stroke-width:0.35px">KIM</text>
<line x1="548.30" y1="448.90" x2="564.30" y2="448.90" stroke="#000" stroke-width="0.9"/>
<polygon points="693.80,267.30 691.80,273.30 695.80,273.30"/>
<text x="697.50" y="273.30" font-size="8.5" text-anchor="start" font-weight="normal" font-style="normal" >aligs</text>
<polygon points="776.30,293.80 774.30,299.80 778.30,299.80"/>
<text x="780.30" y="299.80" font-size="8.5" text-anchor="start" font-weight="normal" font-style="normal" >%ali</text>
<polygon points="738.60,310.00 736.60,316.00 740.60,316.00"/>
<text x="742.70" y="316.10" font-size="8.5" text-anchor="start" font-weight="normal" font-style="normal" >SIN</text>
<polygon points="726.00,321.70 724.00,327.70 728.00,327.70"/>
<text x="729.40" y="327.70" font-size="8.5" text-anchor="start" font-weight="normal" font-style="normal" >IBE</text>
<polygon points="703.40,329.00 701.40,335.00 705.40,335.00"/>
<text x="707.00" y="335.40" font-size="8.5" text-anchor="start" font-weight="normal" font-style="normal" >RAPH</text>
<polygon points="690.30,335.50 688.30,341.50 692.30,341.50"/>
<text x="685.60" y="342.20" font-size="8.5" text-anchor="end" font-weight="normal" font-style="normal" >4MeOH</text>
<rect x="696.90" y="342.15" width="3.2" height="4.9" fill="none" stroke="#000" stroke-width="1.2"/>
<text x="701.90" y="349.10" font-size="8.5" text-anchor="start" font-weight="normal" font-style="italic" style="stroke-width:0.35px">CYR</text>
<line x1="701.40" y1="350.70" x2="720.30" y2="350.70" stroke="#000" stroke-width="0.9"/>
<rect x="795.10" y="412.05" width="3.2" height="4.9" fill="none" stroke="#000" stroke-width="1.2"/>
<text x="800.50" y="417.80" font-size="8.5" text-anchor="start" font-weight="normal" font-style="italic" style="stroke-width:0.35px">SH</text>
<line x1="800.00" y1="419.40" x2="812.00" y2="419.40" stroke="#000" stroke-width="0.9"/>
</svg>
</body></html>
